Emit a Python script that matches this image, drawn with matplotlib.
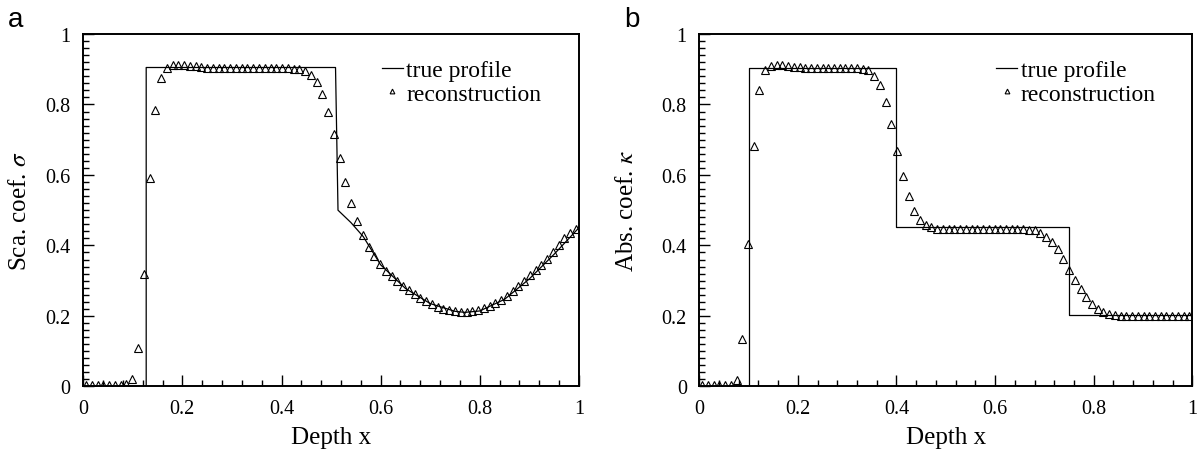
import matplotlib
matplotlib.use("Agg")
import matplotlib.pyplot as plt
import numpy as np
from matplotlib.ticker import MultipleLocator, FuncFormatter

plt.rcParams["font.family"] = ["Liberation Serif", "DejaVu Serif"]
plt.rcParams["mathtext.fontset"] = "stix"

# reconstruction grid (86 cells, values sampled at cell centres)
x_rec = (np.arange(86) + 0.5) / 86

# panel a: scattering coefficient
sca_rec = [
    0.003, 0.003, 0.003, 0.003, 0.003, 0.003, 0.004, 0.006, 0.02, 0.11,
    0.32, 0.59, 0.785, 0.875, 0.905, 0.912, 0.913, 0.912, 0.91, 0.908,
    0.906, 0.905, 0.904, 0.904, 0.903, 0.903, 0.903, 0.903, 0.903, 0.903,
    0.903, 0.903, 0.903, 0.903, 0.903, 0.903, 0.902, 0.901, 0.896, 0.884,
    0.865, 0.83, 0.78, 0.716, 0.647, 0.581, 0.52, 0.47, 0.43, 0.396,
    0.37, 0.348, 0.328, 0.312, 0.298, 0.285, 0.273, 0.262, 0.251, 0.241,
    0.233, 0.226, 0.22, 0.216, 0.213, 0.212, 0.212, 0.213, 0.216, 0.221,
    0.228, 0.236, 0.245, 0.257, 0.27, 0.284, 0.3, 0.315, 0.33, 0.345,
    0.362, 0.381, 0.4, 0.42, 0.435, 0.447,
]
sca_true_x = [0.0, 0.127, 0.127, 0.509, 0.514, 0.54, 0.565, 0.6, 0.65, 0.7,
              0.75, 0.77, 0.8, 0.85, 0.9, 0.95, 1.0]
sca_true_y = [0.0, 0.0, 0.905, 0.905, 0.5, 0.465, 0.425, 0.345, 0.278, 0.235,
              0.213, 0.21, 0.214, 0.247, 0.305, 0.375, 0.45]

# panel b: absorption coefficient
abs_rec = [
    0.003, 0.003, 0.003, 0.003, 0.003, 0.003, 0.017, 0.135, 0.405, 0.683,
    0.842, 0.898, 0.91, 0.912, 0.911, 0.909, 0.907, 0.906, 0.905, 0.905,
    0.904, 0.904, 0.904, 0.903, 0.903, 0.903, 0.903, 0.903, 0.902, 0.898,
    0.882, 0.856, 0.808, 0.744, 0.669, 0.598, 0.54, 0.497, 0.471, 0.459,
    0.451, 0.448, 0.447, 0.447, 0.447, 0.447, 0.447, 0.447, 0.447, 0.447,
    0.447, 0.447, 0.447, 0.447, 0.447, 0.447, 0.446, 0.445, 0.443, 0.436,
    0.425, 0.41, 0.39, 0.362, 0.33, 0.302, 0.275, 0.253, 0.234, 0.22,
    0.21, 0.205, 0.202, 0.2, 0.2, 0.2, 0.2, 0.2, 0.2, 0.2,
    0.2, 0.2, 0.2, 0.2, 0.2, 0.2,
]
abs_true_x = [0.0, 0.1, 0.1, 0.4, 0.4, 0.75, 0.75, 1.0]
abs_true_y = [0.0, 0.0, 0.905, 0.905, 0.453, 0.453, 0.203, 0.203]

panels = [
    ("a", "Sca. coef. $\\sigma$", sca_true_x, sca_true_y, sca_rec),
    ("b", "Abs. coef. $\\kappa$", abs_true_x, abs_true_y, abs_rec),
]
ax_rects = [[0.0692, 0.143, 0.412, 0.7795], [0.5813, 0.143, 0.4098, 0.7795]]


def fmt(v, pos):
    return "%g" % round(v, 3)


fig = plt.figure(figsize=(12.03, 4.52), dpi=100)

for (tag, ylabel, tx, ty, rec), rect in zip(panels, ax_rects):
    ax = fig.add_axes(rect)
    ax.plot(tx, ty, color="black", lw=0.9, label="true profile")
    ax.plot(x_rec, rec, ls="none", marker="^", ms=6.2, mfc="none", mec="black",
            mew=0.8, label="reconstruction")
    ax.set_xlim(0, 1)
    ax.set_ylim(0, 1)
    ax.xaxis.set_major_locator(MultipleLocator(0.2))
    ax.xaxis.set_minor_locator(MultipleLocator(0.04))
    ax.yaxis.set_major_locator(MultipleLocator(0.2))
    ax.yaxis.set_minor_locator(MultipleLocator(0.02))
    ax.xaxis.set_major_formatter(FuncFormatter(fmt))
    ax.yaxis.set_major_formatter(FuncFormatter(fmt))
    ax.tick_params(which="both", direction="in", top=False, right=False,
                   labelsize=14.5, width=1.0)
    ax.tick_params(which="major", length=8, pad=9)
    ax.tick_params(which="minor", length=4)
    for sp in ax.spines.values():
        sp.set_linewidth(1.4)
    ax.set_xlabel("Depth x", fontsize=18, labelpad=6)
    ax.set_ylabel(ylabel, fontsize=18)
    ax.yaxis.set_label_coords(-0.105 if tag == "a" else -0.125, 0.5)
    ax.legend(loc="upper left", bbox_to_anchor=(0.583, 0.955), frameon=False,
              fontsize=17, handlelength=0.9, handletextpad=0.15,
              labelspacing=0.1, markerscale=0.55, borderaxespad=0)
    fig.text(rect[0] - 0.0625, 0.985, tag, family=["Liberation Sans"],
             fontsize=20, va="top", ha="left")

plt.savefig("out.png", dpi=100)
